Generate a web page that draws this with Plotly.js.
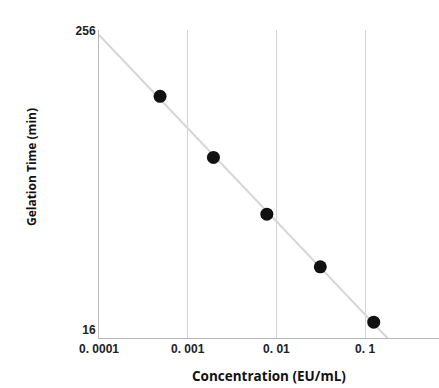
<!DOCTYPE html>
<html>
<head>
<meta charset="utf-8">
<script src="https://cdn.plot.ly/plotly-3.0.1.min.js"></script>
<style>html,body{margin:0;padding:0;background:#fff;}#chart{width:439px;height:388px;}</style>
</head>
<body>
<div id="chart"></div>
<script>
// Data
const concentration = [0.000488, 0.00195, 0.0078, 0.03125, 0.125]; // EU/mL
const gelationTime = [139, 79, 46.7, 28.7, 17.2];                  // min
const fitConcRange = [0.0001, 0.19];                                // extent of fitted line
const xTickVals = [0.0001, 0.001, 0.01, 0.1];
const xTickText = ['0. 0001', '0. 001', '0. 01', '0. 1'];
const yTickVals = [16, 256];
const yTickText = ['16', '256'];

// Log-log linear regression for the fitted line
const lx = concentration.map(Math.log10), ly = gelationTime.map(Math.log10);
const n = lx.length;
const mx = lx.reduce((a, b) => a + b, 0) / n, my = ly.reduce((a, b) => a + b, 0) / n;
let sxy = 0, sxx = 0;
for (let i = 0; i < n; i++) { sxy += (lx[i] - mx) * (ly[i] - my); sxx += (lx[i] - mx) ** 2; }
const slope = sxy / sxx, intercept = my - slope * mx;
const fitY = fitConcRange.map(c => Math.pow(10, intercept + slope * Math.log10(c)));

const tickFont = {family: '"Liberation Sans Narrow", "Arial Narrow", "Liberation Sans", sans-serif', size: 12, color: '#222', weight: 'bold'};
const titleFont = {family: '"Open Sans", "Noto Sans", sans-serif', size: 12, color: '#111', weight: 'bold'};

const traces = [
  {x: fitConcRange, y: fitY, mode: 'lines', line: {color: '#d6d6d6', width: 2}, hoverinfo: 'skip'},
  {x: concentration, y: gelationTime, mode: 'markers', marker: {color: '#111', size: 13}}
];

const layout = {
  width: 439, height: 388,
  margin: {l: 99, r: 0, t: 30, b: 50},
  paper_bgcolor: '#fff', plot_bgcolor: '#fff',
  showlegend: false,
  xaxis: {
    type: 'log', range: [-4, -0.167],
    tickvals: xTickVals, ticktext: xTickText, tickfont: tickFont,
    showgrid: true, gridcolor: '#d4d4d4', gridwidth: 1,
    showline: true, linecolor: '#b8b8b8', linewidth: 1,
    ticks: '', zeroline: false
  },
  yaxis: {
    type: 'log', range: [1.172, 2.4095],
    tickvals: yTickVals, ticktext: yTickText, tickfont: tickFont,
    showgrid: false, showline: true, linecolor: '#b8b8b8', linewidth: 1,
    ticks: '', zeroline: false
  },
  annotations: [
    {text: 'Concentration (EU/mL)', xref: 'paper', yref: 'paper', x: 0.5, y: -0.158,
     xanchor: 'center', yanchor: 'bottom', showarrow: false, font: Object.assign({}, titleFont, {size: 13.5})},
    {text: 'Gelation Time (min)', xref: 'paper', yref: 'paper', x: -0.2, y: 0.555, textangle: -90,
     xanchor: 'center', yanchor: 'middle', showarrow: false, font: titleFont}
  ]
};

Plotly.newPlot('chart', traces, layout, {displayModeBar: false, staticPlot: true});
</script>
</body>
</html>
